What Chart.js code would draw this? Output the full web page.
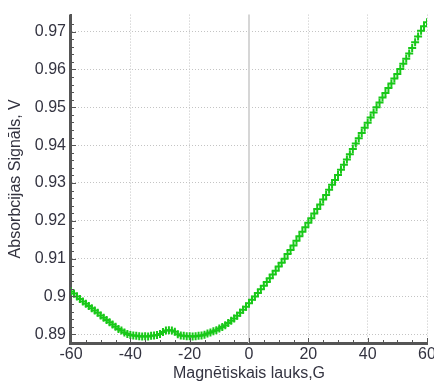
<!DOCTYPE html>
<html lang="lv">
<head>
    <meta charset="UTF-8">
    <title>Absorbcijas signāls</title>
    <script src="https://cdn.jsdelivr.net/npm/chart.js"></script>
    <style>
        html, body {
            margin: 0;
            padding: 0;
            background: #ffffff;
        }
        #wrap {
            width: 434px;
            height: 383px;
        }
    </style>
</head>
<body>
    <div id="wrap"><canvas id="signalChart" width="434" height="383"></canvas></div>

    <script>
        // magnetic field, G
        const fieldG = [
            -60, -59, -58, -57, -56, -55, -54, -53, -52, -51,
            -50, -49, -48, -47, -46, -45, -44, -43, -42, -41,
            -40, -39, -38, -37, -36, -35, -34, -33, -32, -31,
            -30, -29, -28, -27, -26, -25, -24, -23, -22, -21,
            -20, -19, -18, -17, -16, -15, -14, -13, -12, -11,
            -10, -9, -8, -7, -6, -5, -4, -3, -2, -1,
            0, 1, 2, 3, 4, 5, 6, 7, 8, 9,
            10, 11, 12, 13, 14, 15, 16, 17, 18, 19,
            20, 21, 22, 23, 24, 25, 26, 27, 28, 29,
            30, 31, 32, 33, 34, 35, 36, 37, 38, 39,
            40, 41, 42, 43, 44, 45, 46, 47, 48, 49,
            50, 51, 52, 53, 54, 55, 56, 57, 58, 59,
            60
        ];
        // absorption signal, V
        const signalV = [
            0.9013, 0.9008, 0.9000, 0.8993, 0.8987, 0.8981, 0.8975, 0.8969, 0.8963, 0.8957,
            0.8950, 0.8944, 0.8938, 0.8932, 0.8926, 0.8920, 0.8914, 0.8910, 0.8905, 0.8901,
            0.8898, 0.8897, 0.8896, 0.8895, 0.8894, 0.8895, 0.8894, 0.8896, 0.8897, 0.8898,
            0.8901, 0.8906, 0.8910, 0.8911, 0.8910, 0.8907, 0.8900, 0.8897, 0.8896, 0.8895,
            0.8895, 0.8894, 0.8895, 0.8896, 0.8897, 0.8899, 0.8902, 0.8905, 0.8908, 0.8911,
            0.8915, 0.8919, 0.8924, 0.8930, 0.8936, 0.8942, 0.8949, 0.8957, 0.8965, 0.8973,
            0.8982, 0.8991, 0.9000, 0.9009, 0.9019, 0.9028, 0.9038, 0.9048, 0.9058, 0.9068,
            0.9079, 0.9089, 0.9100, 0.9112, 0.9123, 0.9135, 0.9147, 0.9159, 0.9171, 0.9183,
            0.9195, 0.9207, 0.9219, 0.9231, 0.9243, 0.9256, 0.9268, 0.9282, 0.9295, 0.9308,
            0.9321, 0.9335, 0.9348, 0.9362, 0.9376, 0.9390, 0.9404, 0.9418, 0.9432, 0.9446,
            0.9459, 0.9473, 0.9486, 0.9500, 0.9513, 0.9526, 0.9538, 0.9551, 0.9563, 0.9576,
            0.9588, 0.9601, 0.9615, 0.9628, 0.9642, 0.9657, 0.9672, 0.9687, 0.9702, 0.9714,
            0.9725
        ];

        const xTicks = [-60, -40, -20, 0, 20, 40, 60];
        const xTickLabels = ["-60", "-40", "-20", "0", "20", "40", "60"];
        const yTicks = [0.89, 0.90, 0.91, 0.92, 0.93, 0.94, 0.95, 0.96, 0.97];
        const yTickLabels = ["0.89", "0.9", "0.91", "0.92", "0.93", "0.94", "0.95", "0.96", "0.97"];

        const FONT = "'Liberation Sans', Arial, sans-serif";
        const TEXT = "#333340";
        const AXIS = "#555555";

        // zero line, solid axis lines and the little ticks drawn inside the plot
        const innerTicks = {
            id: "innerTicks",
            beforeDatasetsDraw(chart) {
                const {ctx, chartArea, scales: {x}} = chart;
                const px = Math.round(x.getPixelForValue(0));
                ctx.save();
                ctx.strokeStyle = "#d6d6d6";
                ctx.lineWidth = 2;
                ctx.beginPath();
                ctx.moveTo(px, chartArea.top);
                ctx.lineTo(px, chartArea.bottom);
                ctx.stroke();
                ctx.restore();
            },
            afterDraw(chart) {
                const {ctx, chartArea, scales: {x, y}} = chart;
                ctx.save();
                ctx.strokeStyle = AXIS;
                ctx.lineWidth = 2;
                ctx.beginPath();
                ctx.moveTo(chartArea.left - 1, chartArea.top);
                ctx.lineTo(chartArea.left - 1, chartArea.bottom + 1);
                ctx.lineTo(chartArea.right + 1, chartArea.bottom + 1);
                ctx.stroke();

                ctx.lineWidth = 1;
                ctx.beginPath();
                for (let v = -60; v <= 60; v += 5) {
                    const px = Math.round(x.getPixelForValue(v)) + 0.5;
                    const len = v % 20 === 0 ? 5 : 3;
                    ctx.moveTo(px, chartArea.bottom);
                    ctx.lineTo(px, chartArea.bottom - len);
                }
                for (let i = 0; i <= 42; i++) {
                    const v = 0.888 + i * 0.002;
                    if (v > y.max) break;
                    const py = Math.round(y.getPixelForValue(v)) + 0.5;
                    const len = i % 5 === 1 ? 5 : 3;
                    ctx.moveTo(chartArea.left, py);
                    ctx.lineTo(chartArea.left + len, py);
                }
                ctx.stroke();
                ctx.restore();
            }
        };

        const ctx = document.getElementById("signalChart").getContext("2d");
        new Chart(ctx, {
            type: "scatter",
            data: {
                datasets: [{
                    label: "Signāls",
                    data: fieldG.map((g, i) => ({x: g, y: signalV[i]})),
                    pointStyle: "cross",
                    pointRadius: 4,
                    pointBorderWidth: 2,
                    borderColor: "#18c818",
                    backgroundColor: "#18c818",
                    showLine: false
                }]
            },
            options: {
                responsive: false,
                animation: false,
                layout: {padding: {left: 0, right: 7, top: 13, bottom: 0}},
                plugins: {
                    legend: {display: false},
                    tooltip: {enabled: false}
                },
                scales: {
                    x: {
                        type: "linear",
                        min: -60,
                        max: 60,
                        afterBuildTicks: s => { s.ticks = xTicks.map(v => ({value: v})); },
                        afterFit: s => { s.height = 40; s.paddingLeft = 0; s.paddingRight = 0; },
                        ticks: {
                            font: {family: FONT, size: 16},
                            color: TEXT,
                            padding: 2,
                            maxRotation: 0,
                            callback: (v) => xTickLabels[xTicks.indexOf(v)]
                        },
                        grid: {
                            color: c => (c.tick && c.tick.value === 0) ? "rgba(0,0,0,0)" : "#c4c4c4",
                            lineWidth: 1,
                            drawTicks: false
                        },
                        border: {color: AXIS, width: 2, dash: [1, 2]},
                        title: {
                            display: true,
                            text: "Magnētiskais lauks,G",
                            font: {family: FONT, size: 16},
                            color: TEXT,
                            padding: {top: 0, bottom: 0}
                        }
                    },
                    y: {
                        min: 0.8877,
                        max: 0.9745,
                        afterBuildTicks: s => { s.ticks = yTicks.map(v => ({value: v})); },
                        afterFit: s => { s.width = 71; },
                        ticks: {
                            font: {family: FONT, size: 16},
                            color: TEXT,
                            padding: 5,
                            callback: (v) => yTickLabels[yTicks.findIndex(t => Math.abs(t - v) < 1e-6)]
                        },
                        grid: {
                            color: "#c4c4c4",
                            lineWidth: 1,
                            drawTicks: false
                        },
                        border: {color: AXIS, width: 2, dash: [1, 2]},
                        title: {
                            display: true,
                            text: "Absorbcijas Signāls, V",
                            font: {family: FONT, size: 16},
                            color: TEXT,
                            padding: {top: 6, bottom: 0}
                        }
                    }
                }
            },
            plugins: [innerTicks]
        });
    </script>
</body>
</html>
